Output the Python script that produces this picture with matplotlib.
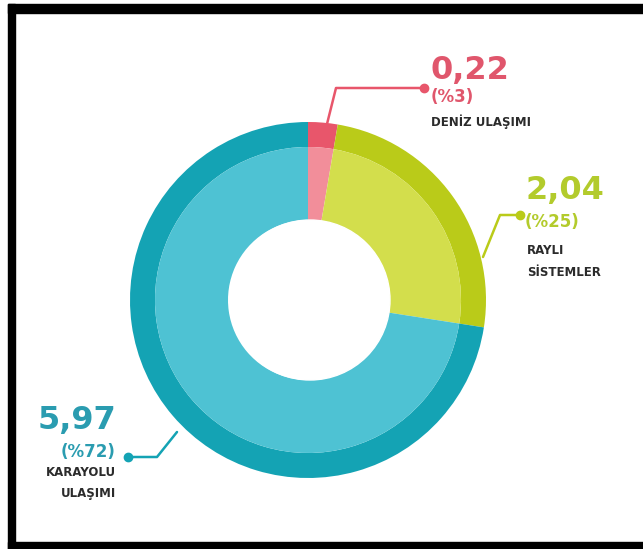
import matplotlib
matplotlib.use("Agg")
import matplotlib.pyplot as plt
import numpy as np
from matplotlib.patches import Rectangle

categories = ["DENİZ ULAŞIMI", "RAYLI\nSİSTEMLER", "KARAYOLU\nULAŞIMI"]
values = [0.22, 2.04, 5.97]
value_labels = ["0,22", "2,04", "5,97"]
pct_labels = ["(%3)", "(%25)", "(%72)"]

dark_colors = ["#E8566B", "#BACB19", "#14A3B4"]
light_colors = ["#F28E9A", "#D3DE4C", "#4EC2D3"]
text_colors = ["#E0566C", "#B3CB2C", "#2A9CB0"]

W, H = 643, 549
fig = plt.figure(figsize=(W / 100, H / 100), dpi=100)
ax = fig.add_axes([0, 0, 1, 1])

cx, cy = 308, H - 300
R_out, R_mid, R_hole = 178, 153, 80

ax.pie(values, radius=R_out, center=(cx, cy), colors=dark_colors,
       startangle=90, counterclock=False,
       wedgeprops=dict(width=R_out - R_mid, linewidth=0))
ax.pie(values, radius=R_mid, center=(cx, cy), colors=light_colors,
       startangle=90, counterclock=False,
       wedgeprops=dict(width=R_mid - R_hole, linewidth=0))
ax.add_patch(plt.Circle((cx + 2, cy), R_hole, color="white", zorder=5))

ax.set_xlim(0, W)
ax.set_ylim(0, H)
ax.set_aspect("equal")
ax.axis("off")

def P(x, y):
    return (x, H - y)

# leader lines (pixel coordinates of the reference)
leaders = [
    [(327, 124), (336, 88), (424, 88)],
    [(483, 257), (500, 215), (520, 215)],
    [(177, 432), (157, 457), (128, 457)],
]
for pts, c in zip(leaders, dark_colors):
    xs = [p[0] for p in pts]
    ys = [H - p[1] for p in pts]
    ax.plot(xs, ys, color=c, lw=1.8, zorder=6, solid_capstyle="round")
    ax.plot(xs[-1], ys[-1], "o", color=c, ms=6, zorder=7)

font = "DejaVu Sans"
# Deniz
ax.text(*P(431, 70), value_labels[0], color=text_colors[0], fontsize=23,
        fontweight="bold", family=font, va="center", ha="left")
ax.text(*P(431, 97), pct_labels[0], color=text_colors[0], fontsize=12,
        fontweight="bold", family=font, va="center", ha="left")
ax.text(*P(431, 122), categories[0], color="#2b2b2b", fontsize=8.5,
        fontweight="bold", family=font, va="center", ha="left")
# Rayli
ax.text(*P(525, 190), value_labels[1], color=text_colors[1], fontsize=23,
        fontweight="bold", family=font, va="center", ha="left")
ax.text(*P(525, 222), pct_labels[1], color=text_colors[1], fontsize=12,
        fontweight="bold", family=font, va="center", ha="left")
ax.text(*P(527, 261), categories[1], color="#2b2b2b", fontsize=8.5,
        fontweight="bold", family=font, va="center", ha="left",
        linespacing=1.9)
# Karayolu
ax.text(*P(116, 420), value_labels[2], color=text_colors[2], fontsize=23,
        fontweight="bold", family=font, va="center", ha="right")
ax.text(*P(116, 452), pct_labels[2], color=text_colors[2], fontsize=12,
        fontweight="bold", family=font, va="center", ha="right")
ax.text(*P(116, 483), categories[2], color="#2b2b2b", fontsize=8.5,
        fontweight="bold", family=font, va="center", ha="right",
        linespacing=1.9, multialignment="right")

# black frame (left, top, bottom)
for (x0, y0, w, h) in [(8, 4, 635, 9), (8, 4, 7, 545), (8, 542, 635, 7)]:
    fig.add_artist(Rectangle((x0 / W, 1 - (y0 + h) / H), w / W, h / H,
                             transform=fig.transFigure, color="black",
                             zorder=10))

fig.savefig("out.png", dpi=100, facecolor="white")
